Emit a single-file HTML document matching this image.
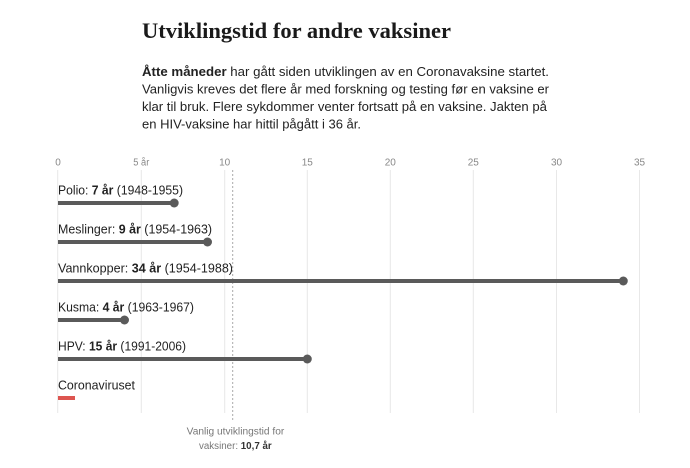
<!DOCTYPE html>
<html><head><meta charset="utf-8"><style>
html,body{margin:0;padding:0;background:#fff;width:690px;height:468px;overflow:hidden}
svg{display:block}
</style></head><body>
<svg width="690" height="468" viewBox="0 0 690 468" xmlns="http://www.w3.org/2000/svg">
<text x="142" y="38" font-family="Liberation Serif, serif" font-weight="bold" font-size="22" fill="#1a1a1a" textLength="309" lengthAdjust="spacingAndGlyphs">Utviklingstid for andre vaksiner</text>
<g font-family="Liberation Sans, sans-serif" font-size="13" fill="#222">
<text x="142" y="76" textLength="407" lengthAdjust="spacingAndGlyphs"><tspan font-weight="bold">Åtte måneder</tspan> har gått siden utviklingen av en Coronavaksine startet.</text>
<text x="142" y="93.5" textLength="407" lengthAdjust="spacingAndGlyphs">Vanligvis kreves det flere år med forskning og testing før en vaksine er</text>
<text x="142" y="111" textLength="405" lengthAdjust="spacingAndGlyphs">klar til bruk. Flere sykdommer venter fortsatt på en vaksine. Jakten på</text>
<text x="142" y="128.5" textLength="219" lengthAdjust="spacingAndGlyphs">en HIV-vaksine har hittil pågått i 36 år.</text>
</g>
<g stroke="#e8e8e8" stroke-width="1">
<line x1="57.7" y1="170" x2="57.7" y2="413"/>
<line x1="141.3" y1="170" x2="141.3" y2="413"/>
<line x1="224.7" y1="170" x2="224.7" y2="413"/>
<line x1="307.3" y1="170" x2="307.3" y2="413"/>
<line x1="390.3" y1="170" x2="390.3" y2="413"/>
<line x1="473.3" y1="170" x2="473.3" y2="413"/>
<line x1="556.5" y1="170" x2="556.5" y2="413"/>
<line x1="639.5" y1="170" x2="639.5" y2="413"/>
</g>
<g font-family="Liberation Sans, sans-serif" font-size="10" fill="#888" text-anchor="middle">
<text x="58" y="165.5">0</text>
<text x="141.3" y="165.5" textLength="16" lengthAdjust="spacingAndGlyphs">5 år</text>
<text x="224.7" y="165.5">10</text>
<text x="307.3" y="165.5">15</text>
<text x="390.3" y="165.5">20</text>
<text x="473.3" y="165.5">25</text>
<text x="556.5" y="165.5">30</text>
<text x="639.5" y="165.5">35</text>
</g>
<line x1="232.7" y1="170" x2="232.7" y2="421" stroke="#aaa" stroke-width="1" stroke-dasharray="2,2"/>
<g stroke="#5a5a5a" stroke-width="4">
<line x1="58" y1="203" x2="174.2" y2="203"/>
<line x1="58" y1="242" x2="207.5" y2="242"/>
<line x1="58" y1="281" x2="623.3" y2="281"/>
<line x1="58" y1="320" x2="124.5" y2="320"/>
<line x1="58" y1="359" x2="307.3" y2="359"/>
</g>
<g fill="#5a5a5a">
<circle cx="174.2" cy="203" r="4.5"/>
<circle cx="207.5" cy="242" r="4.5"/>
<circle cx="623.3" cy="281" r="4.5"/>
<circle cx="124.5" cy="320" r="4.5"/>
<circle cx="307.3" cy="359" r="4.5"/>
</g>
<rect x="58" y="396" width="17" height="4" fill="#dd5550"/>
<g font-family="Liberation Sans, sans-serif" font-size="12.5" fill="#222">
<text x="58" y="194.5" textLength="125" lengthAdjust="spacingAndGlyphs">Polio: <tspan font-weight="bold">7 år</tspan> (1948-1955)</text>
<text x="58" y="233.5" textLength="154" lengthAdjust="spacingAndGlyphs">Meslinger: <tspan font-weight="bold">9 år</tspan> (1954-1963)</text>
<text x="58" y="272.5" textLength="175" lengthAdjust="spacingAndGlyphs">Vannkopper: <tspan font-weight="bold">34 år</tspan> (1954-1988)</text>
<text x="58" y="311.5" textLength="136" lengthAdjust="spacingAndGlyphs">Kusma: <tspan font-weight="bold">4 år</tspan> (1963-1967)</text>
<text x="58" y="350.5" textLength="128" lengthAdjust="spacingAndGlyphs">HPV: <tspan font-weight="bold">15 år</tspan> (1991-2006)</text>
<text x="58" y="389.5" textLength="77" lengthAdjust="spacingAndGlyphs">Coronaviruset</text>
</g>
<g font-family="Liberation Sans, sans-serif" font-size="10" fill="#777">
<text x="186.7" y="434.5" textLength="97.6" lengthAdjust="spacingAndGlyphs">Vanlig utviklingstid for</text>
<text x="199" y="449" textLength="72.7" lengthAdjust="spacingAndGlyphs">vaksiner: <tspan font-weight="bold" fill="#333">10,7 år</tspan></text>
</g>
</svg>
</body></html>
